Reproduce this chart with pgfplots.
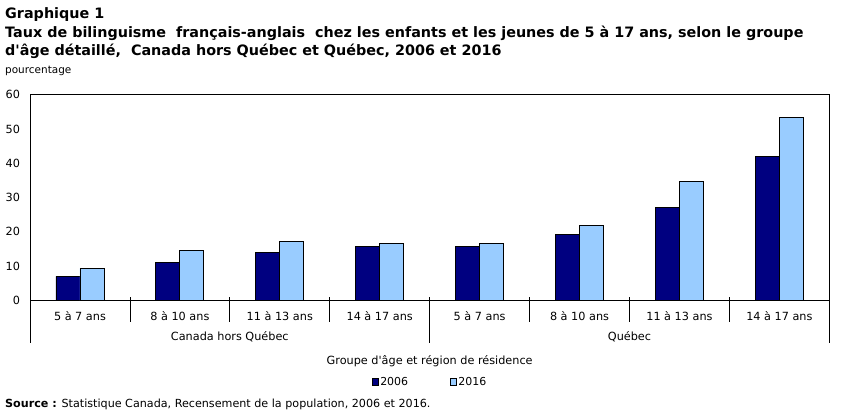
\documentclass[border=0pt]{standalone}
\usepackage{fontspec}
\setmainfont{DejaVu Sans}
\newfontfamily\plainfont{DejaVu Sans}
\newcommand{\ap}{{\plainfont'}}
\usepackage{pgfplots}
\pgfplotsset{compat=1.18}
\definecolor{navy}{RGB}{0,0,128}
\definecolor{lblue}{RGB}{153,204,255}
\pgfplotsset{sqleg/.style={legend image code/.code={\draw[##1,line width=0.6bp] (0bp,-3.3bp) rectangle (6.6bp,3.3bp);}}}
\newcommand{\lf}{\fontsize{11.3}{13}\selectfont}
\begin{document}
\begin{tikzpicture}[x=1bp,y=1bp]
\path[use as bounding box] (0,0) rectangle (851,416);
\node[anchor=west,inner sep=0] at (5,401) {\bfseries\fontsize{14.4}{16}\selectfont Graphique 1};
\node[anchor=west,inner sep=0] at (5,383) {\bfseries\fontsize{14.4}{16}\selectfont Taux de bilinguisme\ \ français-anglais\ \ chez les enfants et les jeunes de 5 à 17 ans, selon le groupe};
\node[anchor=west,inner sep=0] at (5,365) {\bfseries\fontsize{14.4}{16}\selectfont d\ap âge détaillé,\ \ Canada hors Québec et Québec, 2006 et 2016};
\node[anchor=west,inner sep=0] at (5,345) {\fontsize{10.5}{12}\selectfont pourcentage};
\node[anchor=west,inner sep=0] at (5,11.7) {\fontsize{11.2}{12}\selectfont\textbf{Source :} Statistique Canada, Recensement de la population, 2006 et 2016.};
\begin{axis}[
  at={(30bp,115.7bp)}, anchor=south west, scale only axis,
  width=799.3bp, height=205.6bp,
  ymin=0, ymax=60, ytick={0,10,...,60},
  xmin=-0.5, xmax=7.5,
  ybar=0pt, bar width=24bp,
  xtick={0,...,7},
  xticklabels={5 à 7 ans,8 à 10 ans,11 à 13 ans,14 à 17 ans,5 à 7 ans,8 à 10 ans,11 à 13 ans,14 à 17 ans},
  major tick length=0pt,
  xtick style={draw=none}, ytick style={draw=none},
  tick label style={font=\lf},
  /pgf/number format/assume math mode=true,
  xticklabel style={anchor=center, yshift=-15.4bp},
  yticklabel style={anchor=east, xshift=-6.5bp},
  axis line style={line width=0.8bp},
  clip=false,
  legend columns=2,
  legend style={at={(0.5,-0.396)}, anchor=center, draw=none, fill=none,
    font=\fontsize{11}{12}\selectfont,
    /tikz/every even column/.append style={column sep=40bp},
    nodes={inner xsep=1.5bp},
    inner sep=0pt},
  legend cell align=left,
]
\addplot[fill=navy, draw=black, line width=0.8bp, sqleg] coordinates {(0,7.0) (1,11.1) (2,14.0) (3,15.6) (4,15.8) (5,19.3) (6,27.1) (7,42.0)};
\addplot[fill=lblue, draw=black, line width=0.8bp, sqleg] coordinates {(0,9.3) (1,14.6) (2,17.2) (3,16.6) (4,16.6) (5,21.9) (6,34.7) (7,53.4)};
\legend{2006,2016}
\pgfplotsinvokeforeach{0.5,1.5,2.5,4.5,5.5,6.5}{
  \draw[line width=0.8bp] (axis cs:#1,0) ++(0bp,3bp) -- ++(0bp,-24.4bp);
}
\pgfplotsinvokeforeach{-0.5,3.5,7.5}{
  \draw[line width=0.8bp] (axis cs:#1,0) ++(0bp,3bp) -- ++(0bp,-45.4bp);
}
\node[font=\lf] at ([yshift=-36.4bp]axis cs:1.5,0) {Canada hors Québec};
\node[font=\lf] at ([yshift=-36.4bp]axis cs:5.5,0) {Québec};
\node[font=\lf] at ([yshift=-60.4bp]axis cs:3.5,0) {Groupe d\ap âge et région de résidence};
\end{axis}
\end{tikzpicture}
\end{document}
